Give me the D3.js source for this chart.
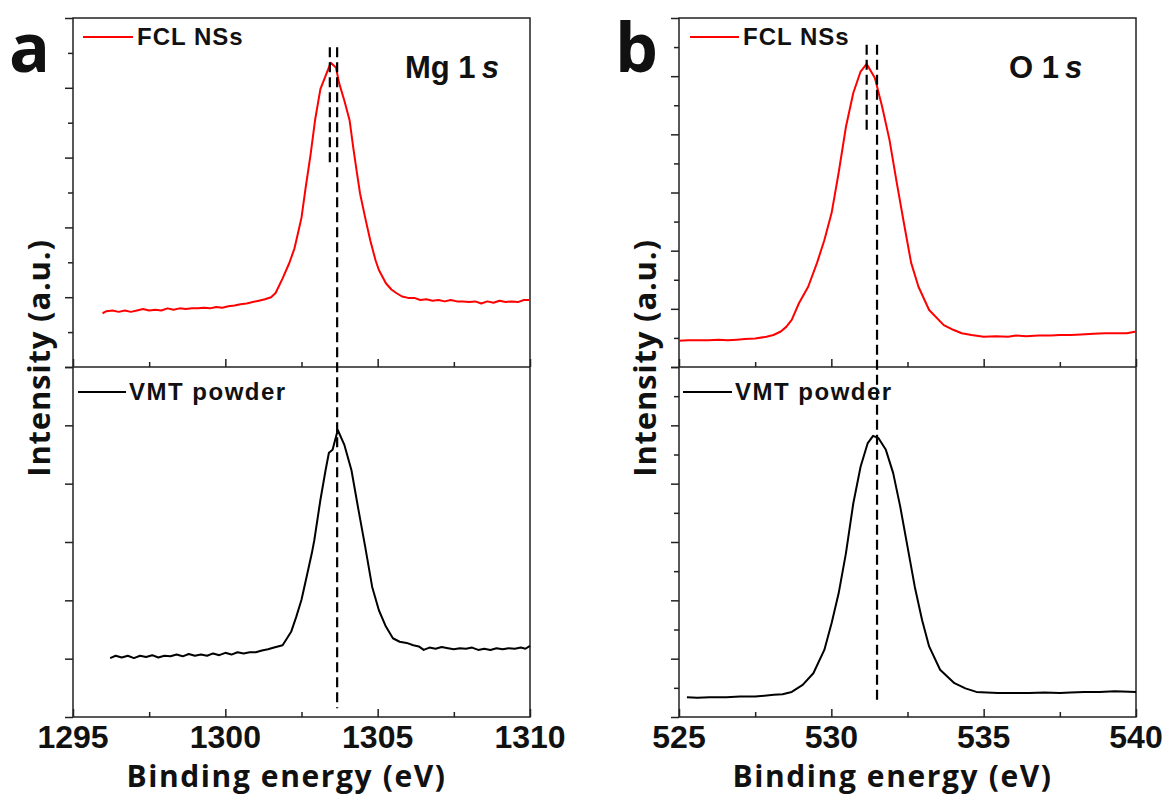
<!DOCTYPE html>
<html>
<head>
<meta charset="utf-8">
<script src="https://cdn.jsdelivr.net/npm/d3@7"></script>
<style>
  body { margin: 0; background: #fff; }
  .tick line { stroke: #222; stroke-width: 1.5; }
  .domain { display: none; }
</style>
</head>
<body>
<script>
// Spectra: [binding energy (eV), intensity (a.u.)]
var mgFCL = [[1295.97,0.77],[1296.1,0.80],[1296.3,0.81],[1296.5,0.79],[1296.7,0.81],[1296.9,0.79],[1297.1,0.81],[1297.3,0.83],[1297.5,0.81],[1297.7,0.82],[1297.9,0.81],[1298.1,0.84],[1298.3,0.82],[1298.5,0.84],[1298.7,0.83],[1298.9,0.84],[1299.1,0.84],[1299.3,0.85],[1299.5,0.84],[1299.7,0.86],[1299.9,0.85],[1300.1,0.87],[1300.3,0.88],[1300.5,0.90],[1300.7,0.91],[1300.9,0.93],[1301.1,0.95],[1301.3,0.97],[1301.5,1.00],[1301.65,1.06],[1301.88,1.27],[1302.10,1.49],[1302.27,1.70],[1302.38,1.91],[1302.50,2.14],[1302.63,2.55],[1302.80,3.05],[1302.95,3.55],[1303.12,3.98],[1303.29,4.17],[1303.46,4.36],[1303.63,4.29],[1303.74,4.06],[1303.91,3.81],[1304.08,3.53],[1304.20,3.14],[1304.31,2.81],[1304.42,2.49],[1304.59,2.14],[1304.76,1.81],[1304.93,1.53],[1305.04,1.39],[1305.27,1.20],[1305.45,1.11],[1305.61,1.06],[1305.8,1.01],[1306.0,0.99],[1306.2,0.99],[1306.4,0.96],[1306.6,0.97],[1306.8,0.95],[1307.0,0.96],[1307.2,0.94],[1307.4,0.96],[1307.6,0.94],[1307.8,0.94],[1308.0,0.93],[1308.2,0.94],[1308.4,0.91],[1308.6,0.94],[1308.8,0.92],[1309.0,0.95],[1309.2,0.93],[1309.4,0.94],[1309.6,0.93],[1309.8,0.96],[1310.0,0.96]];

var mgVMT = [[1296.22,1.01],[1296.4,1.05],[1296.6,1.02],[1296.8,1.05],[1297.0,1.01],[1297.2,1.05],[1297.4,1.03],[1297.6,1.06],[1297.8,1.02],[1298.0,1.05],[1298.2,1.04],[1298.4,1.07],[1298.6,1.04],[1298.8,1.08],[1299.0,1.05],[1299.2,1.07],[1299.4,1.05],[1299.6,1.09],[1299.8,1.06],[1300.0,1.10],[1300.2,1.07],[1300.4,1.11],[1300.6,1.09],[1300.8,1.11],[1301.0,1.11],[1301.2,1.14],[1301.4,1.16],[1301.6,1.19],[1301.88,1.23],[1302.16,1.46],[1302.33,1.72],[1302.50,2.01],[1302.67,2.41],[1302.84,2.81],[1302.92,3.03],[1303.12,3.72],[1303.29,4.23],[1303.40,4.53],[1303.52,4.58],[1303.69,4.92],[1303.91,4.66],[1304.14,4.23],[1304.37,3.55],[1304.59,2.92],[1304.82,2.23],[1305.04,1.83],[1305.27,1.55],[1305.50,1.35],[1305.72,1.29],[1305.95,1.27],[1306.17,1.23],[1306.35,1.21],[1306.51,1.15],[1306.7,1.19],[1306.9,1.17],[1307.1,1.20],[1307.31,1.18],[1307.5,1.16],[1307.7,1.18],[1307.9,1.17],[1308.1,1.19],[1308.3,1.15],[1308.5,1.17],[1308.7,1.15],[1308.9,1.18],[1309.1,1.16],[1309.3,1.18],[1309.5,1.17],[1309.7,1.19],[1309.85,1.17],[1310.0,1.22]];

var oFCL = [[525.0,0.45],[525.3,0.46],[525.6,0.46],[525.97,0.46],[526.3,0.47],[526.6,0.46],[526.9,0.47],[527.16,0.48],[527.5,0.49],[527.87,0.52],[528.1,0.55],[528.34,0.61],[528.52,0.69],[528.70,0.81],[528.94,1.10],[529.24,1.38],[529.53,1.79],[529.77,2.18],[530.01,2.65],[530.24,3.34],[530.48,4.13],[530.72,4.71],[530.96,5.08],[531.16,5.21],[531.43,4.97],[531.67,4.47],[531.91,3.90],[532.15,3.16],[532.38,2.48],[532.62,1.79],[532.86,1.38],[533.21,0.98],[533.69,0.72],[534.0,0.64],[534.28,0.58],[534.6,0.55],[535.0,0.52],[535.4,0.53],[535.8,0.52],[536.06,0.54],[536.4,0.53],[536.8,0.54],[537.2,0.54],[537.5,0.55],[537.85,0.55],[538.2,0.56],[538.6,0.57],[539.0,0.58],[539.4,0.58],[539.7,0.58],[540.0,0.61]];

var oVMT = [[525.26,0.34],[525.6,0.33],[526.0,0.34],[526.56,0.34],[527.0,0.35],[527.5,0.35],[528.11,0.38],[528.4,0.39],[528.70,0.43],[529.06,0.55],[529.41,0.75],[529.77,1.15],[530.01,1.61],[530.24,2.12],[530.48,2.81],[530.72,3.66],[530.96,4.29],[531.19,4.69],[531.37,4.82],[531.55,4.78],[531.79,4.58],[532.03,4.18],[532.26,3.61],[532.50,2.92],[532.74,2.23],[532.98,1.66],[533.21,1.21],[533.57,0.81],[534.04,0.58],[534.4,0.49],[534.76,0.43],[535.1,0.42],[535.47,0.41],[536.0,0.41],[536.5,0.41],[537.0,0.42],[537.5,0.41],[537.85,0.42],[538.3,0.43],[538.8,0.43],[539.3,0.44],[540.0,0.43]];

// peak guide lines (eV)
var mgPeaks = [1303.43, 1303.67];
var oPeaks = [531.16, 531.50];

var mgTicks = [1295, 1300, 1305, 1310];
var oTicks = [525, 530, 535, 540];
var legendNames = ["FCL NSs", "VMT powder"];

var width = 1167, height = 796;
var yTop = 18, yMid = 367, yBot = 717;

var svg = d3.select("body").append("svg")
    .attr("width", width)
    .attr("height", height);

function drawPanel(opt) {
  var g = svg.append("g");

  var x = d3.scaleLinear().domain(d3.extent(opt.ticks)).range([opt.left, opt.right]);
  var yUp = d3.scaleLinear().domain([0, opt.upMax]).range([yMid, yTop]);
  var yLo = d3.scaleLinear().domain([0, 6]).range([yBot, yMid]);

  var xMajor = opt.ticks;
  var xMinor = opt.ticks.slice(1).map(function(d) { return d - 2.5; });

  // x ticks, pointing into the plot, on the bottom of each panel
  [yMid, yBot].forEach(function(yy) {
    g.append("g").attr("transform", "translate(0," + yy + ")")
      .call(d3.axisTop(x).tickValues(xMajor).tickSize(8).tickFormat(""));
    g.append("g").attr("transform", "translate(0," + yy + ")")
      .call(d3.axisTop(x).tickValues(xMinor).tickSize(5).tickFormat(""));
  });

  // y ticks, outward
  function yTicks(scale, max, minor) {
    var majors = d3.range(0, max + 0.01, 1);
    g.append("g").attr("transform", "translate(" + opt.left + ",0)")
      .call(d3.axisLeft(scale).tickValues(majors).tickSize(8).tickFormat(""));
    if (minor) {
      g.append("g").attr("transform", "translate(" + opt.left + ",0)")
        .call(d3.axisLeft(scale).tickValues(majors.slice(1).map(function(d) { return d - 0.5; }))
          .tickSize(5).tickFormat(""));
    }
  }
  yTicks(yUp, opt.upMax, true);
  yTicks(yLo, 6, opt.lowMinor);

  // frame
  g.append("rect")
    .attr("x", opt.left).attr("y", yTop)
    .attr("width", opt.right - opt.left).attr("height", yBot - yTop)
    .attr("fill", "none").attr("stroke", "#222").attr("stroke-width", 1.5);
  g.append("line")
    .attr("x1", opt.left).attr("x2", opt.right)
    .attr("y1", yMid).attr("y2", yMid)
    .attr("stroke", "#222").attr("stroke-width", 1.5);

  // tick labels
  g.selectAll(".xlab").data(xMajor).enter().append("text")
    .attr("x", function(d) { return x(d); })
    .attr("y", 748)
    .attr("text-anchor", "middle")
    .attr("font-family", "Liberation Sans, Arial, sans-serif")
    .attr("font-weight", "bold")
    .attr("font-size", "32px")
    .attr("fill", "#111")
    .text(function(d) { return d; });

  // axis titles
  g.append("text")
    .attr("x", (opt.left + opt.right) / 2 - 15)
    .attr("y", 787)
    .attr("text-anchor", "middle")
    .attr("font-family", "Open Sans, sans-serif")
    .attr("font-weight", "bold")
    .attr("font-size", "30px")
    .attr("letter-spacing", "1.6px")
    .attr("fill", "#111")
    .text("Binding energy (eV)");

  g.append("text")
    .attr("transform", "translate(" + (opt.left - 23) + "," + 358 + ") rotate(-90)")
    .attr("text-anchor", "middle")
    .attr("font-family", "Open Sans, sans-serif")
    .attr("font-weight", "bold")
    .attr("font-size", "31px")
    .attr("letter-spacing", "0.8px")
    .attr("fill", "#111")
    .text("Intensity (a.u.)");

  // spectra
  var lineUp = d3.line().x(function(d) { return x(d[0]); }).y(function(d) { return yUp(d[1]); });
  var lineLo = d3.line().x(function(d) { return x(d[0]); }).y(function(d) { return yLo(d[1]); });

  g.append("path").datum(opt.fcl)
    .attr("fill", "none").attr("stroke", "#ff0000").attr("stroke-width", 2)
    .attr("stroke-linejoin", "round")
    .attr("d", lineUp);
  g.append("path").datum(opt.vmt)
    .attr("fill", "none").attr("stroke", "#000").attr("stroke-width", 2)
    .attr("stroke-linejoin", "round")
    .attr("d", lineLo);

  // dashed peak guides
  g.append("line")
    .attr("x1", x(opt.peaks[0])).attr("x2", x(opt.peaks[0]))
    .attr("y1", yUp(opt.dashTop)).attr("y2", yUp(opt.dashShortEnd))
    .attr("stroke", "#000").attr("stroke-width", 2.2).attr("stroke-dasharray", "10,5");
  g.append("line")
    .attr("x1", x(opt.peaks[1])).attr("x2", x(opt.peaks[1]))
    .attr("y1", yUp(opt.dashTop)).attr("y2", yLo(opt.dashLongEnd))
    .attr("stroke", "#000").attr("stroke-width", 2.2).attr("stroke-dasharray", "10,5");

  // legends
  var legendFont = "Liberation Sans, Arial, sans-serif";
  g.append("line")
    .attr("x1", opt.left + opt.legUp[0]).attr("x2", opt.left + opt.legUp[1])
    .attr("y1", 37).attr("y2", 37)
    .attr("stroke", "#ff0000").attr("stroke-width", 2);
  g.append("text")
    .attr("x", opt.left + opt.legUp[1] + 4).attr("y", 45)
    .attr("font-family", legendFont).attr("font-weight", "bold")
    .attr("font-size", "24px").attr("letter-spacing", "1px").attr("fill", "#111")
    .text(legendNames[0]);

  g.append("line")
    .attr("x1", opt.left + opt.legLo[0]).attr("x2", opt.left + opt.legLo[1])
    .attr("y1", 392).attr("y2", 392)
    .attr("stroke", "#000").attr("stroke-width", 2);
  g.append("text")
    .attr("x", opt.left + opt.legLo[1] + 3).attr("y", 400)
    .attr("font-family", legendFont).attr("font-weight", "bold")
    .attr("font-size", "24px").attr("letter-spacing", "1.5px").attr("fill", "#111")
    .text(legendNames[1]);

  // element label
  var el = g.append("text")
    .attr("x", opt.elX).attr("y", 77.5)
    .attr("font-family", legendFont).attr("font-weight", "bold")
    .attr("font-size", "31px").attr("fill", "#111");
  el.append("tspan").text(opt.element);
  el.append("tspan").attr("dx", 6).attr("font-style", "italic").text("s");

  // panel letter
  g.append("text")
    .attr("x", opt.letterX).attr("y", 72)
    .attr("font-family", "Open Sans, sans-serif")
    .attr("font-weight", "bold")
    .attr("font-size", "68px")
    .attr("fill", "#111")
    .text(opt.letter);
}

drawPanel({
  left: 73, right: 530, ticks: mgTicks, upMax: 5, lowMinor: false,
  fcl: mgFCL, vmt: mgVMT, peaks: mgPeaks,
  dashTop: 4.58, dashShortEnd: 2.86, dashLongEnd: 0.15,
  legUp: [10, 60], legLo: [5, 53],
  element: "Mg 1", elX: 405, letter: "a", letterX: 9
});

drawPanel({
  left: 679, right: 1136, ticks: oTicks, upMax: 6, lowMinor: true,
  fcl: oFCL, vmt: oVMT, peaks: oPeaks,
  dashTop: 5.54, dashShortEnd: 4.02, dashLongEnd: 0.26,
  legUp: [11, 60], legLo: [4, 53],
  element: "O 1", elX: 1009, letter: "b", letterX: 615
});
</script>
</body>
</html>
